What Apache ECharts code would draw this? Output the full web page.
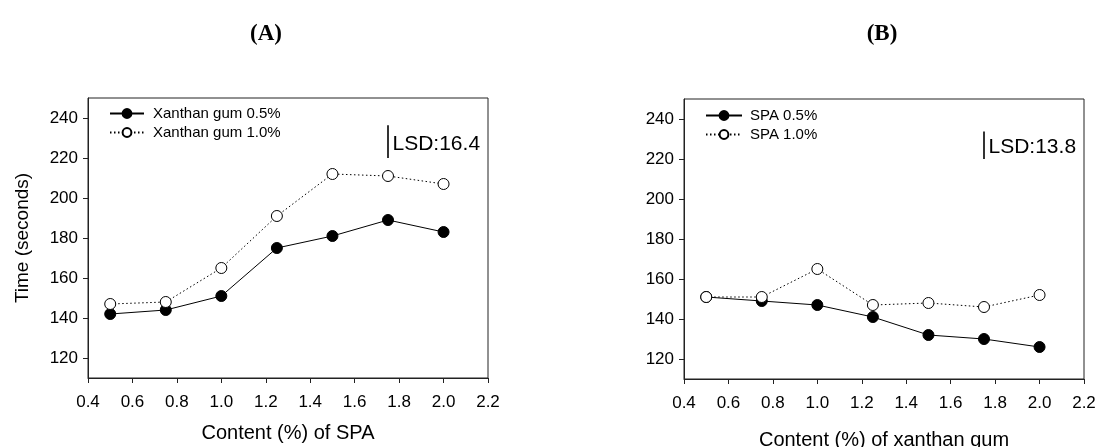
<!DOCTYPE html>
<html>
<head>
<meta charset="utf-8">
<script src="https://cdn.jsdelivr.net/npm/echarts@6/dist/echarts.min.js"></script>
<style>
html,body{margin:0;padding:0;background:#fff;}
#chart{width:1097px;height:447px;}
</style>
</head>
<body>
<div id="chart"></div>
<script>
// ---- data ----
var xValues = [0.5, 0.75, 1.0, 1.25, 1.5, 1.75, 2.0];
var xTicks = [0.4, 0.6, 0.8, 1.0, 1.2, 1.4, 1.6, 1.8, 2.0, 2.2];
var yTicks = [120, 140, 160, 180, 200, 220, 240];

var seriesANames = ['Xanthan gum 0.5%', 'Xanthan gum 1.0%'];
var xanthan05 = [142, 144, 151, 175, 181, 189, 183];
var xanthan10 = [147, 148, 165, 191, 212, 211, 207];

var seriesBNames = ['SPA 0.5%', 'SPA 1.0%'];
var spa05 = [151, 149, 147, 141, 132, 130, 126];
var spa10 = [151, 151, 165, 147, 148, 146, 152];

var lsdA = 16.4, lsdAx = 1.75, lsdAbase = 220;
var lsdB = 13.8, lsdBx = 1.75, lsdBbase = 220;

var titles = ['(A)', '(B)'];
var xNames = ['Content (%) of SPA', 'Content (%) of xanthan gum'];
var yName = 'Time (seconds)';

// ---- build ----
function pairs(xs, ys){ return xs.map(function(x,i){ return [x, ys[i]]; }); }
var FONT = '"Liberation Sans", Arial, sans-serif';

function lsdSeries(idx, x, base, lsd){
  return {
    type: 'line', xAxisIndex: idx, yAxisIndex: idx, silent: true,
    symbol: 'circle', symbolSize: 1,
    itemStyle: {color: 'rgba(0,0,0,0)'},
    lineStyle: {color: '#000', width: 1.6},
    data: [
      [x, base],
      {value: [x, base + lsd * 0.42], label: {show: true, position: 'right', distance: 4,
        formatter: 'LSD:' + lsd.toFixed(1), color: '#000', fontSize: 21, fontFamily: FONT}},
      [x, base + lsd]
    ],
    z: 5
  };
}

function dataSeries(name, idx, ys, filled){
  return {
    name: name, type: 'line', xAxisIndex: idx, yAxisIndex: idx,
    data: pairs(xValues, ys),
    symbol: 'circle', symbolSize: 11,
    itemStyle: {color: filled ? '#000' : '#fff', borderColor: '#000', borderWidth: 1},
    lineStyle: {color: '#000', width: 1, type: filled ? 'solid' : [1.5, 2.5]},
    z: filled ? 3 : 4
  };
}

function xAxis(idx){
  return {
    type: 'value', gridIndex: idx, min: 0.4, max: 2.2,
    name: xNames[idx], nameLocation: 'middle', nameGap: idx === 0 ? 45 : 51,
    nameTextStyle: {fontSize: 20, color: '#000', fontFamily: FONT},
    axisLine: {show: true, onZero: false, lineStyle: {color: '#222', width: 1}},
    axisTick: {show: true, length: 5, inside: false, customValues: xTicks, lineStyle: {color: '#222'}},
    axisLabel: {customValues: xTicks, formatter: function(v){ return v.toFixed(1); },
      fontSize: 17, color: '#000', fontFamily: FONT, margin: 16},
    splitLine: {show: false}
  };
}
function yAxis(idx){
  return {
    type: 'value', gridIndex: idx, min: 110, max: 250,
    name: idx === 0 ? yName : '', nameLocation: 'middle', nameGap: 56,
    nameTextStyle: {fontSize: 19, color: '#000', fontFamily: FONT},
    axisLine: {show: true, onZero: false, lineStyle: {color: '#222', width: 1}},
    axisTick: {show: true, length: 5, inside: false, customValues: yTicks, lineStyle: {color: '#222'}},
    axisLabel: {customValues: yTicks, fontSize: 17, color: '#000', fontFamily: FONT, margin: 10},
    splitLine: {show: false}
  };
}

var titleStyle = {fontFamily: '"Liberation Serif", "Times New Roman", serif', fontWeight: 'bold', fontSize: 23, color: '#000'};

var option = {
  backgroundColor: '#fff',
  animation: false,
  title: [
    {text: titles[0], left: 261, top: 18, textAlign: 'center', textStyle: titleStyle},
    {text: titles[1], left: 877, top: 18, textAlign: 'center', textStyle: titleStyle}
  ],
  grid: [
    {left: 88, right: 609, top: 98, bottom: 69, outerBoundsMode: 'none', containLabel: false,
      show: true, borderColor: '#222', borderWidth: 1, backgroundColor: 'transparent'},
    {left: 684, right: 13, top: 99, bottom: 68, outerBoundsMode: 'none', containLabel: false,
      show: true, borderColor: '#222', borderWidth: 1, backgroundColor: 'transparent'}
  ],
  legend: [
    {data: seriesANames, left: 109, top: 106, padding: 0, orient: 'vertical', itemWidth: 34, itemHeight: 11, itemGap: 4,
      textStyle: {fontSize: 15, color: '#000', fontFamily: FONT, padding: [0,0,0,4]}, selectedMode: false},
    {data: seriesBNames, left: 705, top: 108, padding: 0, orient: 'vertical', itemWidth: 36, itemHeight: 11, itemGap: 4,
      textStyle: {fontSize: 15, color: '#000', fontFamily: FONT, padding: [0,0,0,3]}, selectedMode: false}
  ],
  xAxis: [xAxis(0), xAxis(1)],
  yAxis: [yAxis(0), yAxis(1)],
  series: [
    dataSeries(seriesANames[0], 0, xanthan05, true),
    dataSeries(seriesANames[1], 0, xanthan10, false),
    dataSeries(seriesBNames[0], 1, spa05, true),
    dataSeries(seriesBNames[1], 1, spa10, false),
    lsdSeries(0, lsdAx, lsdAbase, lsdA),
    lsdSeries(1, lsdBx, lsdBbase, lsdB)
  ]
};

var chart = echarts.init(document.getElementById('chart'), null, {renderer: 'canvas'});
chart.setOption(option);
</script>
</body>
</html>
